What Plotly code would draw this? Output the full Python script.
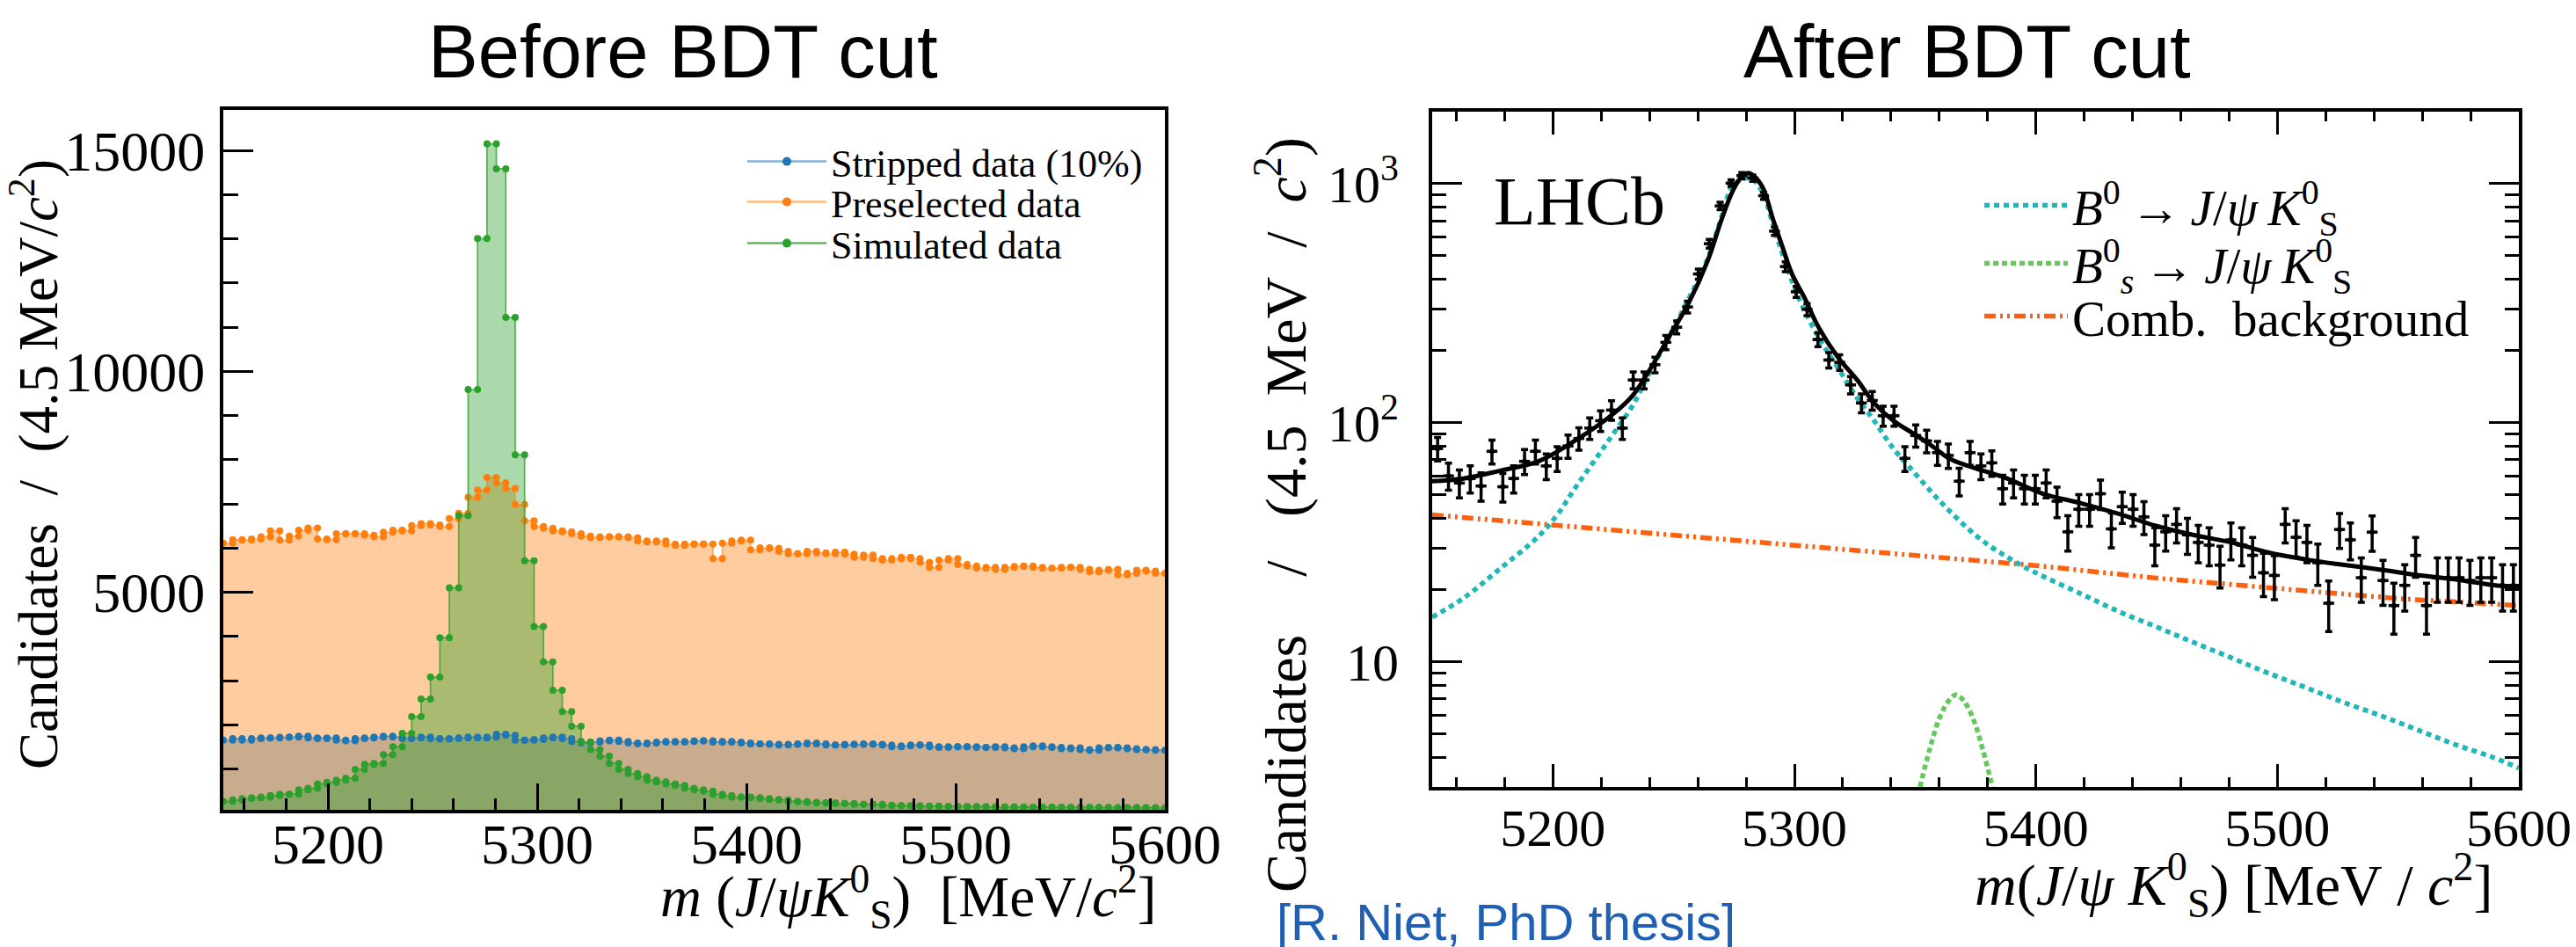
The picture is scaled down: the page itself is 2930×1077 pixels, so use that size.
import numpy as np
import plotly.graph_objects as go

# ---------------- data ----------------
BIN_LO, BIN_HI, NBINS = 5150.0, 5600.0, 100

stripped = [1655, 1688, 1655, 1688, 1702, 1702, 1715, 1722, 1742, 1702,
            1688, 1702, 1655, 1636, 1688, 1702, 1722, 1742, 1722, 1688,
            1702, 1722, 1688, 1675, 1688, 1702, 1722, 1702, 1720, 1788,
            1760, 1655, 1655, 1669, 1702, 1722, 1688, 1622, 1589, 1609,
            1636, 1655, 1622, 1589, 1569, 1589, 1609, 1622, 1609, 1622,
            1636, 1636, 1609, 1622, 1609, 1589, 1569, 1569, 1556, 1543,
            1556, 1569, 1589, 1569, 1543, 1543, 1556, 1556, 1569, 1556,
            1543, 1503, 1523, 1543, 1543, 1503, 1490, 1503, 1503, 1503,
            1490, 1490, 1503, 1477, 1457, 1503, 1523, 1503, 1490, 1457,
            1477, 1437, 1424, 1477, 1490, 1477, 1457, 1437, 1437, 1424]

preselected = [6113, 6192, 6179, 6205, 6258, 6391, 6179, 6272, 6404, 6457,
               6205, 6192, 6325, 6325, 6325, 6291, 6258, 6358, 6404, 6391,
               6510, 6556, 6523, 6490, 6669, 6788, 7152, 7317, 7600, 7480,
               7350, 6985, 6620, 6490, 6450, 6391, 6371, 6325, 6271, 6238,
               6258, 6258, 6258, 6238, 6159, 6139, 6159, 6093, 6060, 6093,
               6093, 6093, 5762, 6113, 6159, 6179, 5960, 6007, 5993, 5927,
               5874, 5874, 5927, 5894, 5874, 5907, 5861, 5795, 5841, 5762,
               5729, 5762, 5795, 5762, 5676, 5563, 5729, 5762, 5629, 5596,
               5543, 5563, 5517, 5563, 5583, 5596, 5563, 5543, 5543, 5563,
               5563, 5517, 5464, 5497, 5517, 5397, 5430, 5497, 5477, 5430]

simulated = [265, 298, 331, 351, 364, 397, 430, 430, 530, 563,
             662, 695, 748, 794, 993, 1106, 1126, 1324, 1503, 1808,
             2185, 2583, 3079, 3973, 5099, 6735, 9588, 13008, 15153, 14588,
             11221, 8114, 5715, 4225, 3424, 2781, 2298, 1967, 1609, 1437,
             1291, 1126, 993, 894, 828, 748, 708, 662, 629, 563,
             530, 497, 430, 397, 364, 364, 351, 331, 311, 298,
             265, 265, 245, 232, 232, 218, 218, 198, 198, 198,
             178, 172, 168, 165, 160, 158, 155, 152, 150, 148,
             146, 144, 142, 140, 138, 136, 135, 134, 133, 132,
             131, 130, 129, 128, 127, 126, 125, 124, 123, 122]

after_counts = [78, 60, 56, 58.5, 54.4, 76, 54, 58.5, 69, 76,
                66, 71, 80, 86, 95, 102, 113, 95, 151, 151,
                175, 217, 251, 305, 419, 561, 807, 1005, 1080, 1055,
                890, 633, 450, 353, 298, 223, 183, 179, 144, 121,
                124, 107, 107, 71, 88.5, 84, 75, 73, 57, 75,
                66, 68, 53, 56, 53, 53, 56, 47, 35, 43.5,
                43.5, 50.5, 36, 44.6, 43.5, 40.4, 30.8, 35, 37.6, 34,
                31.6, 30.8, 25.4, 32.4, 30.8, 27.9, 23.6, 23, 37.6, 33.2,
                31.6, 26, 17.6, 35.8, 32.4, 22.5, 34.9, 21.9, 17.2, 20.9,
                27.9, 17.2, 22.5, 22.5, 22.5, 21.9, 22.5, 22.5, 20.9, 20.9]

fit_mass = [5150, 5163, 5178, 5194, 5209, 5225, 5233, 5240, 5248, 5256,
            5264, 5270, 5274.5, 5278.4, 5280.7, 5283, 5287, 5291, 5295, 5299,
            5304, 5310, 5318, 5326, 5333, 5341, 5349, 5357, 5364, 5372,
            5388, 5403, 5419, 5434, 5450, 5465, 5481, 5496, 5512, 5527,
            5543, 5558, 5574, 5589, 5600]
fit_total = [57, 58.5, 63, 69, 84, 109, 130, 166, 228, 314,
             474, 716, 935, 1080, 1107, 1080, 958, 716, 546, 419,
             336, 251, 188, 151, 121, 102, 90.5, 80, 71, 66,
             58.5, 50.5, 46, 41.7, 37, 34, 31.6, 28.7, 26.8, 25.5,
             24.3, 23.1, 22.1, 21, 20.5]

b0_mass = [5150, 5163, 5178, 5194, 5202, 5209, 5217, 5225, 5233, 5240,
           5248, 5256, 5264, 5270, 5274.5, 5278.4, 5280.7, 5283, 5287, 5291,
           5295, 5302, 5310, 5318, 5326, 5333, 5341, 5349, 5357, 5364,
           5372, 5380, 5388, 5395, 5403, 5419, 5434, 5450, 5465, 5481,
           5496, 5512, 5527, 5543, 5558, 5574, 5589, 5600]
b0_pdf = [15.4, 18.5, 24.5, 33.5, 41.5, 53, 69, 90, 118, 162,
          228, 327, 483, 735, 987, 1040, 1060, 1040, 910, 683,
          510, 329, 228, 170, 127, 102, 78, 63, 51, 43,
          36, 31, 27.5, 25, 22.8, 19.2, 16.3, 14.0, 12.1, 10.4,
          9.0, 7.8, 6.8, 5.95, 5.2, 4.5, 4.0, 3.6]

bs_mass = [5352, 5356, 5360, 5364, 5367, 5370, 5374, 5378, 5382]
bs_pdf = [3.0, 4.3, 5.8, 6.9, 7.3, 6.9, 5.8, 4.3, 3.0]

comb_mass = [5150, 5200, 5250, 5300, 5350, 5400, 5450, 5500, 5550, 5600]
comb_pdf = [41.2, 37.3, 34.1, 30.9, 28.0, 25.3, 22.4, 20.3, 18.4, 17.2]

left_ytick_vals = [5000, 10000, 15000]
right_ytick_vals = [10, 100, 1000]
right_ytick_text = ["10", "10<sup>2</sup>", "10<sup>3</sup>"]
right_yminor_vals = [4, 5, 6, 7, 8, 9, 20, 30, 40, 50, 60, 70, 80, 90,
                     200, 300, 400, 500, 600, 700, 800, 900]

# ---------------- derived ----------------
edges = np.linspace(BIN_LO, BIN_HI, NBINS + 1)
centers = 0.5 * (edges[:-1] + edges[1:])
half_w = 0.5 * (edges[1] - edges[0])
step_x = np.repeat(edges, 2)[1:-1]


def step_y(c):
    return np.repeat(np.asarray(c, dtype=float), 2)


W, H = 2930, 1077
SERIF = "Liberation Serif"
SANS = "Liberation Sans"


def px_x(p):
    return p / W


def px_y(p):
    return 1 - p / H


fig = go.Figure()

left_series = [
    ("Stripped data (10%)", stripped, "#1f77b4", "rgba(31,119,180,0.40)", "rgba(31,119,180,0.55)", "legend", 184),
    ("Preselected data", preselected, "#ff7f0e", "rgba(255,127,14,0.40)", "rgba(255,127,14,0.55)", "legend2", 230),
    ("Simulated data", simulated, "#2ca02c", "rgba(44,160,44,0.40)", "rgba(44,160,44,0.75)", "legend3", 277),
]

# fills first
for name, counts, col, fillc, linec, lg, ly in left_series:
    fig.add_trace(go.Scatter(x=step_x, y=step_y(counts), mode="lines",
                             line=dict(width=0, color=fillc), fill="tozeroy",
                             fillcolor=fillc, showlegend=False, hoverinfo="skip",
                             xaxis="x", yaxis="y"))
# step lines + markers on top
for name, counts, col, fillc, linec, lg, ly in left_series:
    fig.add_trace(go.Scatter(x=step_x, y=step_y(counts), mode="lines+markers",
                             line=dict(width=1.8, color=linec),
                             marker=dict(size=8, color=col),
                             showlegend=False, hoverinfo="skip",
                             xaxis="x", yaxis="y"))
# legend entries (one legend box per row)
for name, counts, col, fillc, linec, lg, ly in left_series:
    fig.add_trace(go.Scatter(x=[None], y=[None], mode="lines+markers", name=name,
                             line=dict(width=2.5, color=linec),
                             marker=dict(size=10, color=col),
                             legend=lg, xaxis="x", yaxis="y"))

# right panel
CYAN = "#1fb7b7"
LGREEN = "#62c95a"
ORANGE = "#ff6010"
fig.add_trace(go.Scatter(x=comb_mass, y=comb_pdf, mode="lines", name="Comb.&nbsp;&nbsp;background",
                         line=dict(color=ORANGE, width=5.5, dash="13px,5px,3px,5px,3px,5px"),
                         legend="legend6", xaxis="x2", yaxis="y2"))
fig.add_trace(go.Scatter(x=b0_mass, y=b0_pdf, mode="lines", line_shape="spline",
                         name="<i>B</i><sup>0</sup>\u2009\u2192\u2009<i>J</i>/<i>\u03c8</i>\u2009<i>K</i><sup>0</sup><sub>S</sub>",
                         line=dict(color=CYAN, width=5.5, dash="6px,5px"),
                         legend="legend4", xaxis="x2", yaxis="y2"))
fig.add_trace(go.Scatter(x=bs_mass, y=bs_pdf, mode="lines", line_shape="spline",
                         name="<i>B</i><sup>0</sup><sub><i>s</i></sub>\u2009\u2192\u2009<i>J</i>/<i>\u03c8</i>\u2009<i>K</i><sup>0</sup><sub>S</sub>",
                         line=dict(color=LGREEN, width=5.5, dash="6px,4px"),
                         legend="legend5", xaxis="x2", yaxis="y2"))
fig.add_trace(go.Scatter(x=fit_mass, y=fit_total, mode="lines", line_shape="spline",
                         line=dict(color="black", width=5), showlegend=False,
                         xaxis="x2", yaxis="y2"))
cnt = np.asarray(after_counts, dtype=float)
fig.add_trace(go.Scatter(x=centers, y=cnt, mode="markers",
                         marker=dict(size=6, color="black"),
                         error_y=dict(type="data", array=np.sqrt(cnt), color="black",
                                      thickness=3.5, width=4),
                         error_x=dict(type="constant", value=half_w, color="black",
                                      thickness=3.5, width=0),
                         showlegend=False, xaxis="x2", yaxis="y2"))

# ---------------- layout ----------------
tick_left = dict(family=SERIF, size=64, color="black")
tick_right = dict(family=SERIF, size=60, color="black")
common = dict(showline=True, linecolor="black", linewidth=4, ticks="inside",
              tickcolor="black", tickwidth=3, showgrid=False, zeroline=False,
              automargin=False)

leg_common = dict(xanchor="left", yanchor="middle", bgcolor="rgba(0,0,0,0)",
                  tracegroupgap=0, borderwidth=0)

fig.update_layout(
    width=W, height=H, margin=dict(l=0, r=0, t=0, b=0),
    paper_bgcolor="white", plot_bgcolor="white",
    xaxis=dict(domain=[px_x(254), px_x(1325)], range=[BIN_LO, BIN_HI], anchor="y",
               mirror=True, ticklen=30, tick0=5000, dtick=100, ticklabelstandoff=-20,
               tickfont=tick_left,
               minor=dict(ticks="inside", ticklen=13, tickwidth=3, tickcolor="black",
                          tick0=5000, dtick=20, showgrid=False),
               **common),
    yaxis=dict(domain=[px_y(921), px_y(125)], range=[75, 15920], anchor="x",
               mirror=True, ticklen=34, tickmode="array", tickvals=left_ytick_vals,
               tickformat="d", ticklabelstandoff=4, tickfont=tick_left,
               minor=dict(ticks="inside", ticklen=17, tickwidth=3, tickcolor="black",
                          tick0=0, dtick=1000, showgrid=False),
               **common),
    xaxis2=dict(domain=[px_x(1629), px_x(2865)], range=[BIN_LO, BIN_HI], anchor="y2",
                mirror="ticks", ticklen=26, tick0=5000, dtick=100, ticklabelstandoff=-9,
                tickfont=tick_right,
                minor=dict(ticks="inside", ticklen=11, tickwidth=3, tickcolor="black",
                           tick0=5000, dtick=20, showgrid=False),
                **common),
    yaxis2=dict(domain=[px_y(895), px_y(127)], type="log",
                range=[np.log10(3.0), np.log10(2000.0)], anchor="x2",
                mirror="ticks", ticklen=34, tickmode="array", tickvals=right_ytick_vals,
                ticktext=right_ytick_text, ticklabelstandoff=22, tickfont=tick_right,
                minor=dict(ticks="inside", ticklen=16, tickwidth=3, tickcolor="black",
                           tickvals=right_yminor_vals, showgrid=False),
                **common),
    showlegend=True,
)

left_leg_font = dict(family=SERIF, size=44, color="black")
for name, counts, col, fillc, linec, lg, ly in left_series:
    fig.update_layout({lg: dict(x=px_x(845), y=px_y(ly), font=left_leg_font,
                                itemwidth=90, **leg_common)})

right_leg_font = dict(family=SERIF, size=57, color="black")
for lg, ly in [("legend4", 234), ("legend5", 300), ("legend6", 360)]:
    fig.update_layout({lg: dict(x=px_x(2252), y=px_y(ly), font=right_leg_font,
                                itemwidth=95, **leg_common)})

annos = [
    dict(text="Before BDT cut", x=px_x(777), y=px_y(58), font=dict(family=SANS, size=85, color="black")),
    dict(text="After BDT cut", x=px_x(2237), y=px_y(58), font=dict(family=SANS, size=85, color="black")),
    dict(text="[R. Niet, PhD thesis]", x=px_x(1713), y=px_y(1048),
         font=dict(family=SANS, size=58, color="#1f5fb4")),
    dict(text="LHCb", x=px_x(1796), y=px_y(228), font=dict(family=SERIF, size=78, color="black")),
    dict(text="<i>m</i>&nbsp;(<i>J</i>/<i>\u03c8</i><i>K</i><sup>0</sup><sub>S</sub>)&nbsp;&nbsp;[MeV/<i>c</i><sup>2</sup>]",
         x=px_x(1317), y=px_y(1020), xanchor="right",
         font=dict(family=SERIF, size=65, color="black")),
    dict(text="<i>m</i>(<i>J</i>/<i>\u03c8</i>&nbsp;<i>K</i><sup>0</sup><sub>S</sub>)&nbsp;[MeV&nbsp;/&nbsp;<i>c</i><sup>2</sup>]",
         x=px_x(2837), y=px_y(1006), xanchor="right",
         font=dict(family=SERIF, size=66, color="black")),
    dict(text="Candidates&nbsp;&nbsp;/&nbsp;&nbsp;(4.5&nbsp;MeV/<i>c</i><sup>2</sup>)", x=px_x(40), y=px_y(528),
         textangle=-90, font=dict(family=SERIF, size=63, color="black")),
    dict(text="Candidates&nbsp;&nbsp;&nbsp;&nbsp;/&nbsp;&nbsp;&nbsp;(4.5&nbsp;&nbsp;MeV&nbsp;&nbsp;/&nbsp;&nbsp;<i>c</i><sup>2</sup>)",
         x=px_x(1458), y=px_y(586), textangle=-90,
         font=dict(family=SERIF, size=66, color="black")),
]
for a in annos:
    a.setdefault("xanchor", "center")
    fig.add_annotation(xref="paper", yref="paper", showarrow=False, yanchor="middle", **a)

fig.write_html("out.html", config={"displayModeBar": False},
               post_script="document.body.style.margin='0';document.body.style.overflow='hidden';")
